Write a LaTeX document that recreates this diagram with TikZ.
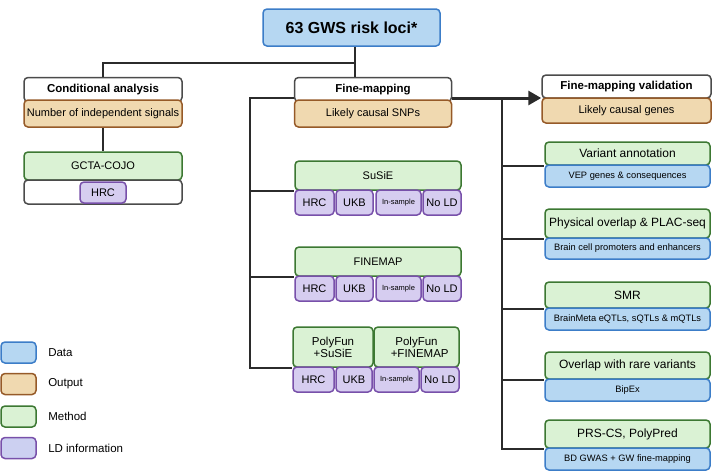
\documentclass[tikz,border=0pt]{standalone}
\usepackage{fontspec}
\setmainfont{Liberation Sans}
\usepackage{tikz}
\usetikzlibrary{arrows.meta}

\definecolor{datafill}{HTML}{B6D7F2}
\definecolor{datadraw}{HTML}{3C7DC8}
\definecolor{outfill}{HTML}{F0D9B0}
\definecolor{outdraw}{HTML}{965A28}
\definecolor{methfill}{HTML}{DAF2D4}
\definecolor{methdraw}{HTML}{3C7832}
\definecolor{ldfill}{HTML}{D6CDF0}
\definecolor{lddraw}{HTML}{7850AA}
\definecolor{linecol}{HTML}{2B2B2B}

\begin{document}
\begin{tikzpicture}[x=1pt,y=-1pt,
  box/.style={rounded corners=4pt, line width=1.5pt, inner sep=0pt, align=center},
  head/.style={box, draw=linecol!85, fill=white, font=\fontsize{11.5}{13}\selectfont\bfseries},
  data/.style={box, draw=datadraw, fill=datafill, font=\fontsize{9.3}{11}\selectfont},
  output/.style={box, draw=outdraw, fill=outfill, font=\fontsize{11}{13}\selectfont},
  method/.style={box, draw=methdraw, fill=methfill, font=\fontsize{12}{13}\selectfont},
  ld/.style={box, draw=lddraw, fill=ldfill, minimum height=25pt, font=\fontsize{11}{13}\selectfont},
  small/.style={font=\fontsize{7.5}{9}\selectfont},
  link/.style={draw=linecol, line width=1.5pt},
  bigarrow/.style={draw=linecol, line width=3pt, -{Triangle[length=13pt,width=14pt]}},
  legtext/.style={anchor=west, font=\fontsize{11.5}{13}\selectfont}]

\useasboundingbox (0,0) rectangle (712,472);

% top
\node[data, minimum width=177pt, minimum height=37pt, font=\fontsize{16}{18}\selectfont\bfseries] (loci) at (351.5,27.5) {63 GWS risk loci*};

% conditional analysis
\node[head, minimum width=158pt, minimum height=24pt] (ca_head) at (103,89.5) {Conditional analysis};
\node[output, minimum width=158pt, minimum height=27pt] (ca_out) at (103,113.5) {Number of independent signals};
\node[method, minimum width=158pt, minimum height=28pt, font=\fontsize{11}{13}\selectfont] (cojo) at (103,166) {GCTA-COJO};
\node[box, draw=linecol!85, fill=white, minimum width=158pt, minimum height=24pt] (cojo_ld) at (103,192) {};
\node[ld, minimum width=46pt, minimum height=21pt] (cojo_hrc) at (103,192.5) {HRC};

% fine-mapping
\node[head, minimum width=157pt, minimum height=24pt] (fm_head) at (373,89.5) {Fine-mapping};
\node[output, minimum width=157pt, minimum height=27pt] (fm_out) at (373,113.5) {Likely causal SNPs};

\node[method, minimum width=166pt, minimum height=29pt, font=\fontsize{11}{13}\selectfont] (susie) at (378,175.5) {SuSiE};
\node[ld, minimum width=39pt] (susie_hrc) at (314.5,202.5) {HRC};
\node[ld, minimum width=37pt] (susie_ukb) at (354.5,202.5) {UKB};
\node[ld, minimum width=45pt, small] (susie_in) at (398.5,202.5) {In-sample};
\node[ld, minimum width=38pt] (susie_no) at (442,202.5) {No LD};

\node[method, minimum width=166pt, minimum height=29pt, font=\fontsize{11}{13}\selectfont] (finemap) at (378,261.5) {FINEMAP};
\node[ld, minimum width=39pt] (finemap_hrc) at (314.5,288.5) {HRC};
\node[ld, minimum width=37pt] (finemap_ukb) at (354.5,288.5) {UKB};
\node[ld, minimum width=45pt, small] (finemap_in) at (398.5,288.5) {In-sample};
\node[ld, minimum width=38pt] (finemap_no) at (442,288.5) {No LD};

\node[method, minimum width=80pt, minimum height=40pt, font=\fontsize{11.5}{12}\selectfont] (pfs) at (333,347) {PolyFun\\+SuSiE};
\node[method, minimum width=85pt, minimum height=40pt, font=\fontsize{11.5}{12}\selectfont] (pff) at (416.5,347) {PolyFun\\\ \ +FINEMAP};
\node[ld, minimum width=41pt] (pf_hrc) at (313.5,379.5) {HRC};
\node[ld, minimum width=36pt] (pf_ukb) at (354,379.5) {UKB};
\node[ld, minimum width=45pt, small] (pf_in) at (396.5,379.5) {In-sample};
\node[ld, minimum width=38pt] (pf_no) at (440,379.5) {No LD};

% fine-mapping validation
\node[head, minimum width=169pt, minimum height=23pt] (fmv_head) at (626.5,86.5) {Fine-mapping validation};
\node[output, minimum width=169pt, minimum height=25pt] (fmv_out) at (626.5,110.5) {Likely causal genes};

\node[method, minimum width=165pt, minimum height=23pt] (va) at (627.5,153.5) {Variant annotation};
\node[data, minimum width=165pt, minimum height=22pt] (va_d) at (627.5,176) {VEP genes \& consequences};
\node[method, minimum width=165pt, minimum height=29pt] (po) at (627.5,223.5) {Physical overlap \& PLAC-seq};
\node[data, minimum width=165pt, minimum height=21pt] (po_d) at (627.5,248.5) {Brain cell promoters and enhancers};
\node[method, minimum width=165pt, minimum height=26pt] (smr) at (627.5,295) {SMR};
\node[data, minimum width=165pt, minimum height=22pt] (smr_d) at (627.5,319) {BrainMeta eQTLs, sQTLs \& mQTLs};
\node[method, minimum width=165pt, minimum height=27pt] (rare) at (627.5,365.5) {Overlap with rare variants};
\node[data, minimum width=165pt, minimum height=22pt] (rare_d) at (627.5,390) {BipEx};
\node[method, minimum width=165pt, minimum height=28pt] (prs) at (627.5,434) {PRS-CS, PolyPred};
\node[data, minimum width=165pt, minimum height=22pt] (prs_d) at (627.5,459) {BD GWAS + GW fine-mapping};

% connectors
\coordinate (split) at (355,63);
\coordinate (ltrunk) at (250,98);
\coordinate (rtrunk) at (502,98);
\draw[link] (split |- loci.south) -- (split |- fm_head.north);
\draw[link] (split) -| (ca_head.north);
\draw[link] (ca_out.south) -- (cojo.north);

\draw[link] (ltrunk -| fm_head.west) -- (ltrunk) -- (ltrunk |- pfs.south west) -- (pfs.south west);
\draw[link] (ltrunk |- susie.south west) -- (susie.south west);
\draw[link] (ltrunk |- finemap.south west) -- (finemap.south west);

\draw[bigarrow] (rtrunk -| fm_head.east) -- (rtrunk -| fmv_head.west);
\draw[link] (rtrunk) -- (rtrunk |- prs.south west) -- (prs.south west);
\foreach \m in {va,po,smr,rare}
  \draw[link] (rtrunk |- \m.south west) -- (\m.south west);

% legend
\node[data, minimum width=35pt, minimum height=21pt] (leg_data) at (18.5,352.5) {};
\node[legtext] at (leg_data.east) [xshift=8pt] {Data};
\node[output, minimum width=35pt, minimum height=21pt] (leg_out) at (18.5,384) {};
\node[legtext] at (leg_out.east) [xshift=8pt] {Output};
\node[method, minimum width=35pt, minimum height=21pt] (leg_meth) at (18.5,416.5) {};
\node[legtext] at (leg_meth.east) [xshift=8pt] {Method};
\node[ld, draw=lddraw, fill=ldfill!70!datafill, minimum width=35pt, minimum height=21pt] (leg_ld) at (18.5,448) {};
\node[legtext] at (leg_ld.east) [xshift=8pt] {LD information};

\end{tikzpicture}
\end{document}
